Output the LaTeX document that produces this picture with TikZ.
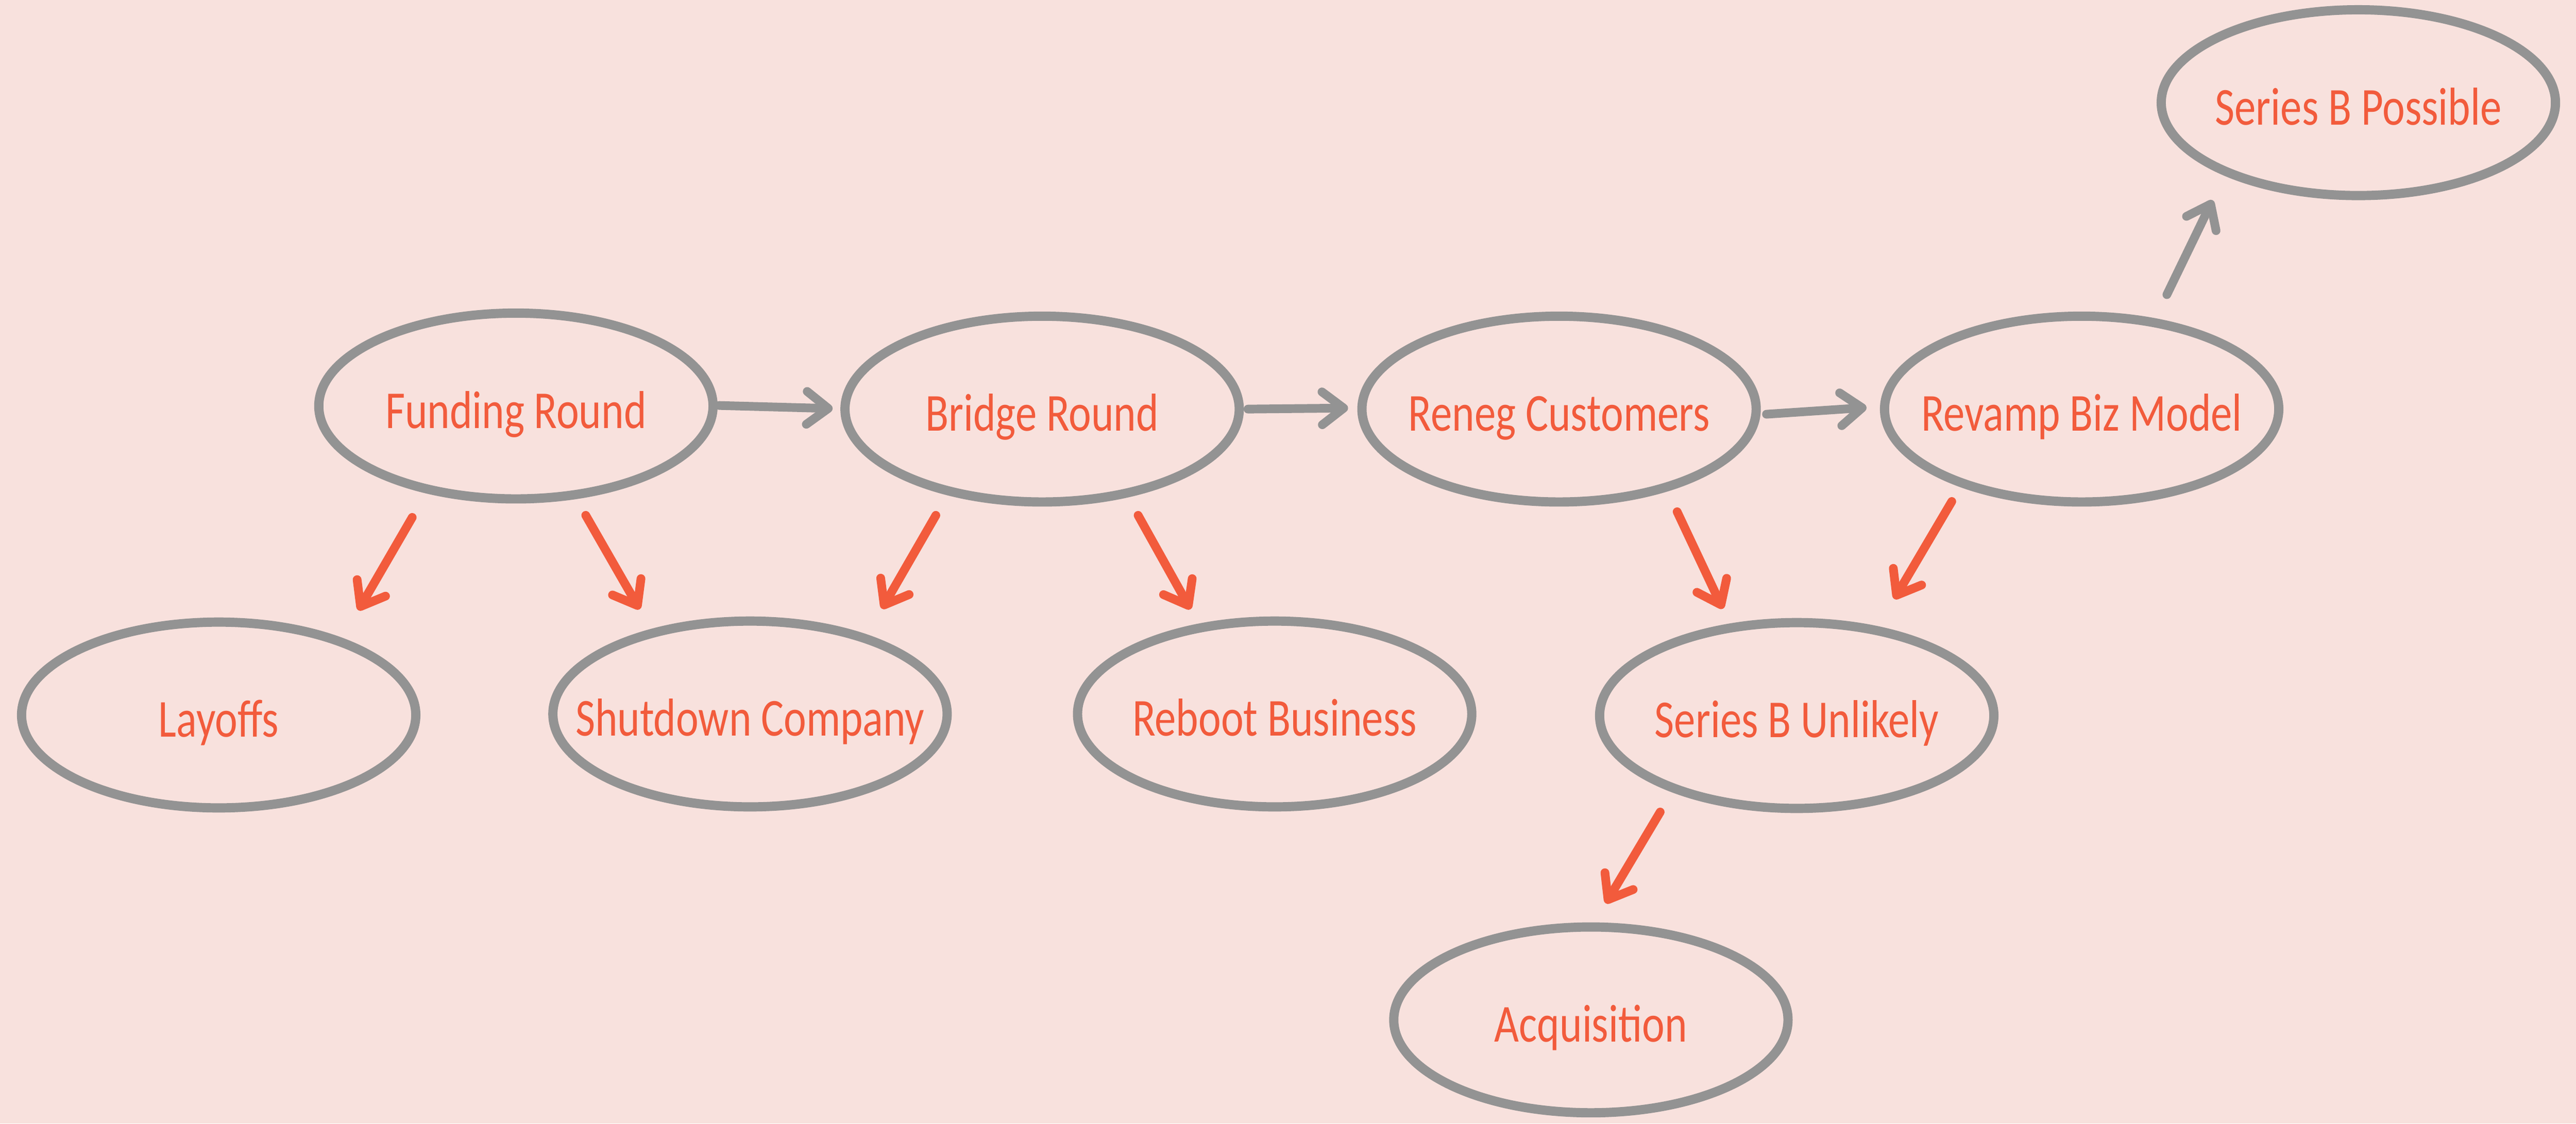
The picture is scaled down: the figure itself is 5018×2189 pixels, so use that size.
\documentclass[tikz,border=0pt]{standalone}
\usepackage{fontspec}
\usepackage{graphicx}
\setmainfont{Carlito}
\usetikzlibrary{shapes.geometric,arrows.meta,calc}
\definecolor{bgpink}{RGB}{248,225,221}
\definecolor{bubblegray}{RGB}{147,147,147}
\definecolor{redorange}{RGB}{242,91,60}
\newcommand\bubblelabel[1]{\makebox[0pt]{\raisebox{-9pt}{\scalebox{0.8}[1]{#1}}}}
\begin{document}
\begin{tikzpicture}[x=1pt,y=-1pt,
  bubble/.style={ellipse, draw=bubblegray, line width=18pt,
    minimum width=768pt, minimum height=362pt, inner sep=0pt,
    text=redorange, font=\fontsize{104}{120}\selectfont,
    text height=68pt, text depth=0pt},
  flow/.style={draw=bubblegray, line width=17pt, line cap=round,
    -{Straight Barb[length=42pt,width=64pt,round]}},
  branch/.style={flow, draw=redorange}]
\fill[bgpink] (0,0) rectangle (5018,2189);
\useasboundingbox (0,0) rectangle (5018,2189);
\node[bubble] (fund)     at (1005,791)  {\bubblelabel{Funding Round}};
\node[bubble] (bridge)   at (2030,797)  {\bubblelabel{Bridge Round}};
\node[bubble] (reneg)    at (3037,797)  {\bubblelabel{Reneg Customers}};
\node[bubble] (revamp)   at (4055,797)  {\bubblelabel{Revamp Biz Model}};
\node[bubble] (sbp)      at (4594,200)  {\bubblelabel{Series B Possible}};
\node[bubble] (layoffs)  at (426,1393)  {\bubblelabel{Layoffs}};
\node[bubble] (shutdown) at (1461,1391) {\bubblelabel{Shutdown Company}};
\node[bubble] (reboot)   at (2483,1391) {\bubblelabel{Reboot Business}};
\node[bubble] (sbu)      at (3500,1394) {\bubblelabel{Series B Unlikely}};
\node[bubble] (acq)      at (3099,1987) {\bubblelabel{Acquisition}};
\draw[flow] ($(fund)+(396,-1)$) -- ($(bridge)+(-408,-1)$);
\draw[flow] ($(bridge)+(401,0)$) -- ($(reneg)+(-411,-2)$);
\draw[flow] ($(reneg)+(404,10)$) -- ($(revamp)+(-419,-3)$);
\draw[flow] ($(revamp)+(166,-223)$) -- ($(sbp)+(-284,190)$);
\draw[branch] ($(fund)+(-202,217)$) -- ($(layoffs)+(272,-204)$);
\draw[branch] ($(fund)+(136,213)$) -- ($(shutdown)+(-215,-204)$);
\draw[branch] ($(bridge)+(-207,207)$) -- ($(shutdown)+(257,-205)$);
\draw[branch] ($(bridge)+(187,207)$) -- ($(reboot)+(-164,-204)$);
\draw[branch] ($(reneg)+(230,200)$) -- ($(sbu)+(-144,-208)$);
\draw[branch] ($(revamp)+(-253,180)$) -- ($(sbu)+(190,-227)$);
\draw[branch] ($(sbu)+(-266,188)$) -- ($(acq)+(29,-227)$);
\end{tikzpicture}
\end{document}
